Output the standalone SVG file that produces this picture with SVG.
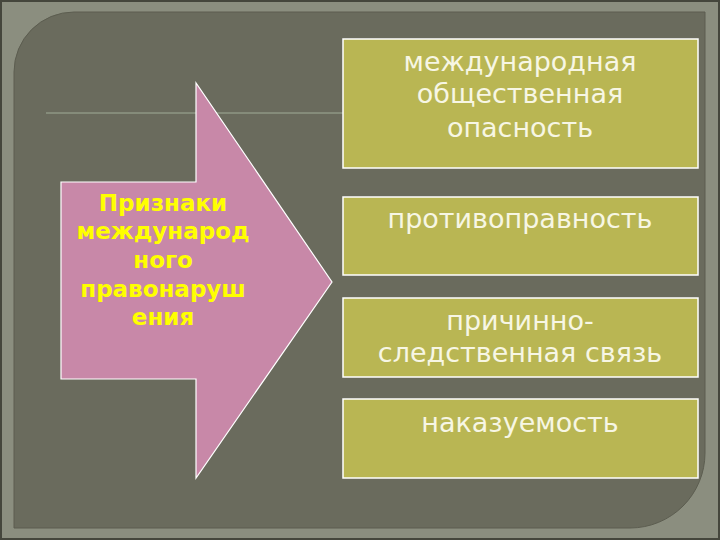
<svg xmlns="http://www.w3.org/2000/svg" width="720" height="540" viewBox="0 0 720 540">
<style>
.box{fill:#b9b653;stroke:#ffffff;stroke-width:1.5}
.bt{font-family:"DejaVu Sans",Verdana,sans-serif;font-size:27px;fill:#f7f6e4;text-anchor:middle}
.at{font-family:"DejaVu Sans",Verdana,sans-serif;font-weight:bold;font-size:23px;fill:#ffff00;text-anchor:middle}
</style>
<rect x="0" y="0" width="720" height="540" fill="#8b8e7f"/>
<rect x="1" y="1" width="718" height="538" fill="none" stroke="#45463c" stroke-width="2"/>
<path d="M14,72 A60,60 0 0 1 74,12 L705,12 L705,453 A75,75 0 0 1 630,528 L14,528 Z" fill="#6a6b5d" stroke="#5c5d50" stroke-width="1"/>
<line x1="46" y1="113" x2="343" y2="113" stroke="#a0ad98" stroke-width="1"/>
<g id="arrow">
<polygon points="61,182 196,182 196,83 332,282 196,478 196,379 61,379" fill="#c888a8" stroke="#ffffff" stroke-width="1.2"/>
<text class="at" x="163" y="211">Признаки</text>
<text class="at" x="163" y="239">международ</text>
<text class="at" x="163" y="268">ного</text>
<text class="at" x="163" y="297">правонаруш</text>
<text class="at" x="163" y="325">ения</text>
</g>
<g id="box1">
<rect class="box" x="343" y="39" width="355" height="129"/>
<text class="bt" x="520" y="71">международная</text>
<text class="bt" x="520" y="103">общественная</text>
<text class="bt" x="520" y="137">опасность</text>
</g>
<g id="box2">
<rect class="box" x="343" y="197" width="355" height="78"/>
<text class="bt" x="520" y="228">противоправность</text>
</g>
<g id="box3">
<rect class="box" x="343" y="298" width="355" height="79"/>
<text class="bt" x="520" y="330">причинно-</text>
<text class="bt" x="520" y="362">следственная связь</text>
</g>
<g id="box4">
<rect class="box" x="343" y="399" width="355" height="79"/>
<text class="bt" x="520" y="432">наказуемость</text>
</g>
<g id="connectors"></g>
</svg>
